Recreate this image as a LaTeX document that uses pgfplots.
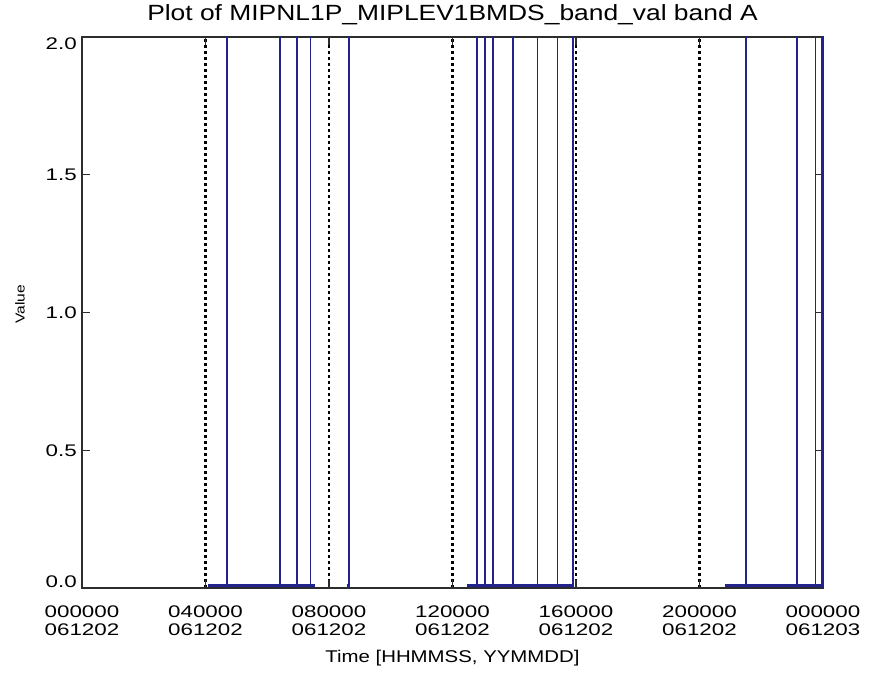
\documentclass[border=0pt]{standalone}
\usepackage{fontspec}
\setmainfont{Liberation Sans}[FakeStretch=1.2]
\newfontfamily\tickfont{Liberation Sans}[FakeStretch=1.33]
\usepackage{pgfplots}
\pgfplotsset{compat=1.18}
\definecolor{spk}{RGB}{35,35,140}
\definecolor{axc}{RGB}{45,45,45}
\begin{document}
\begin{tikzpicture}[x=1pt,y=1pt]
\useasboundingbox (0,0) rectangle (873,685);
\begin{axis}[
  at={(82pt,97pt)}, anchor=south west,
  width=741pt, height=551pt, scale only axis,
  xmin=0, xmax=24, ymin=0, ymax=2,
  axis line style={axc, line width=1.6pt},
  every tick/.style={axc, line width=1.2pt},
  major tick length=8pt,
  tick align=inside,
  xtick={0,4,8,12,16,20,24},
  xticklabels={{000000\\061202},{040000\\061202},{080000\\061202},{120000\\061202},{160000\\061202},{200000\\061202},{000000\\061203}},
  xticklabel style={align=center, anchor=north, inner sep=0pt, yshift=-18pt, font=\tickfont\fontsize{16.8}{17.5}\selectfont},
  ytick={0,0.5,1,1.5,2},
  yticklabel style={anchor=east, inner sep=0pt, xshift=-5pt,
    yshift={6*(\ticknum==0)-7*(\ticknum==4)},
    font=\tickfont\fontsize{16.8}{17.5}\selectfont,
    /pgf/number format/fixed, /pgf/number format/fixed zerofill, /pgf/number format/precision=1,
    /pgf/number format/assume math mode=true},
  xmajorgrids,
  major grid style={black, line width=2.4pt, line cap=butt, dash pattern=on 3pt off 3pt},
  title={Plot of MIPNL1P\_MIPLEV1BMDS\_band\_val band A},
  title style={at={(axis description cs:0.5,1)}, anchor=base, yshift=10pt, font=\fontsize{22}{23}\selectfont},
  xlabel={Time [HHMMSS, YYMMDD]},
  xlabel style={at={(axis description cs:0.5,0)}, anchor=base, yshift=-75pt, font=\fontsize{17}{18}\selectfont},
  ylabel={Value},
  ylabel style={at={(axis description cs:-0.0837,0.515)}, anchor=center, rotate=0, font=\fontsize{13}{14}\selectfont},
  clip=true,
  unbounded coords=jump,
]
\addplot[spk, ycomb, line width=1.8pt, no marks] coordinates {
  (4.69,3) (6.40,3) (6.96,3) (7.40,3) (8.65,3)
  (12.79,3) (13.04,3) (13.30,3) (13.97,3) (14.75,3) (15.40,3) (15.89,3)
  (21.50,3) (23.17,3) (23.76,3) (23.98,3)
};
\addplot[spk, line width=2.3pt, no marks] table {
x y
4.08 0.009
7.55 0.009
nan nan
8.57 0.009
8.65 0.009
nan nan
12.46 0.009
15.90 0.009
nan nan
20.83 0.009
24.00 0.009
};
\end{axis}
\end{tikzpicture}
\end{document}
